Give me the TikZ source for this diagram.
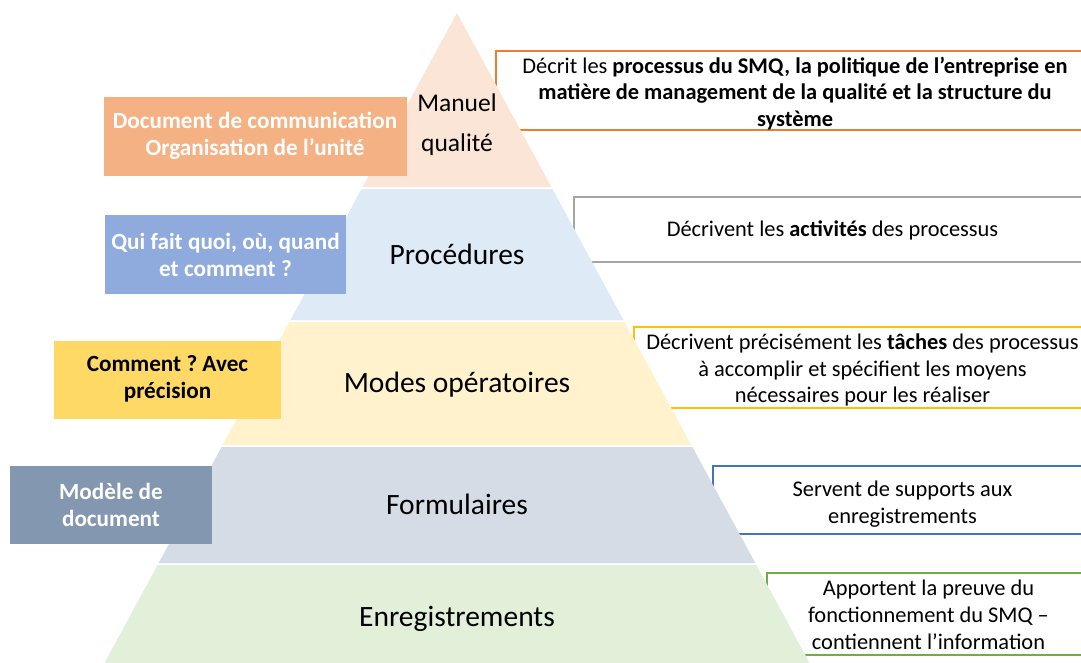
\documentclass[tikz,border=0pt]{standalone}
\usepackage{fontspec}
\setmainfont{Carlito}
\frenchspacing
\definecolor{bandA}{HTML}{FBE5D6}
\definecolor{bandB}{HTML}{DEEBF7}
\definecolor{bandC}{HTML}{FFF2CC}
\definecolor{bandD}{HTML}{D6DCE5}
\definecolor{bandE}{HTML}{E2F0D9}
\definecolor{boxA}{HTML}{F4B183}
\definecolor{boxB}{HTML}{8FAADC}
\definecolor{boxC}{HTML}{FFD966}
\definecolor{boxD}{HTML}{8497B0}
\definecolor{lineA}{HTML}{ED7D31}
\definecolor{lineB}{HTML}{A5A5A5}
\definecolor{lineC}{HTML}{FFC000}
\definecolor{lineD}{HTML}{4472C4}
\definecolor{lineE}{HTML}{70AD47}
\newcommand\pyrband[3]{%
  \pgfmathsetmacro\xa{457-0.5424*(#1-13)}%
  \pgfmathsetmacro\xb{457+0.5424*(#1-13)}%
  \pgfmathsetmacro\xc{457+0.5424*(#2-13)}%
  \pgfmathsetmacro\xd{457-0.5424*(#2-13)}%
  \fill[#3] (\xa,#1) -- (\xb,#1) -- (\xc,#2) -- (\xd,#2) -- cycle;}
\tikzset{
  rbox/.style={fill=white, line width=1.5pt},
  rtext/.style={inner sep=0pt, align=center, font=\fontsize{22.4}{26.8}\selectfont},
  lbox/.style={inner sep=0pt, align=center, text=white, font=\fontsize{23.2}{27}\selectfont\bfseries},
  blabel/.style={inner sep=0pt, align=center, font=\fontsize{29.5}{36}\selectfont}
}
\begin{document}
\begin{tikzpicture}[x=1pt, y=-1pt]
\useasboundingbox (0,0) rectangle (1081,662);
\fill[white] (0,0) rectangle (1081,662);
% right description frames (behind the pyramid)
\filldraw[rbox, draw=lineA] (1090,51) -| (496,130) -- (1090,130);
\filldraw[rbox, draw=lineB] (1090,197) -| (574,262) -- (1090,262);
\filldraw[rbox, draw=lineC] (1090,327) -| (634,408) -- (1090,408);
\filldraw[rbox, draw=lineD] (1090,466) -| (713,534) -- (1090,534);
\filldraw[rbox, draw=lineE] (1090,573) -| (767,655) -- (1090,655);
% pyramid
\pyrband{13}{187}{bandA}
\pyrband{189}{320}{bandB}
\pyrband{322}{445}{bandC}
\pyrband{447}{563}{bandD}
\pyrband{565}{670}{bandE}
% pyramid labels
\node[inner sep=0pt, align=center, font=\fontsize{25.5}{40}\selectfont] (manuel) at (457,124.5) {Manuel\\qualité};
\node[blabel] (proc) at (457,254.5) {Procédures};
\node[blabel] (modes) at (457,385) {Modes opératoires};
\node[blabel] (form) at (457,504.5) {Formulaires};
\node[blabel] (enreg) at (457,619) {Enregistrements};
% left boxes
\node[lbox, fill=boxA, minimum width=303pt, minimum height=79pt] (docbox) at (255,136.5) {\raisebox{-2pt}{\begin{tabular}{@{}c@{}}Document de communication\\[0pt]Organisation de l’unité\end{tabular}}};
\node[lbox, fill=boxB, minimum width=241pt, minimum height=79pt] (quibox) at (225.5,254.5) {Qui fait quoi, où, quand\\et comment ?};
\node[lbox, fill=boxC, text=black, minimum width=227pt, minimum height=78pt] (combox) at (167.5,380) {\raisebox{-2pt}{\begin{tabular}{@{}c@{}}Comment ? Avec\\[0pt]précision\end{tabular}}};
\node[lbox, fill=boxD, minimum width=202pt, minimum height=78pt] (modbox) at (111,504.5) {Modèle de\\document};
% right texts
\node[rtext] (tA) at (795,93.5) {Décrit les \textbf{processus du SMQ, la politique de l’entreprise en}\\\textbf{matière de management de la qualité et la structure du}\\\textbf{système}};
\node[rtext] (tB) at (832.5,230.5) {Décrivent les \textbf{activités} des processus};
\node[rtext] (tC) at (862.5,370) {Décrivent précisément les \textbf{tâches} des processus\\à accomplir et spécifient les moyens\\nécessaires pour les réaliser};
\node[rtext] (tD) at (902.5,504) {Servent de supports aux\\enregistrements};
\node[rtext] (tE) at (928.5,614.5) {Apportent la preuve du\\fonctionnement du SMQ –\\contiennent l’information};
\end{tikzpicture}
\end{document}
